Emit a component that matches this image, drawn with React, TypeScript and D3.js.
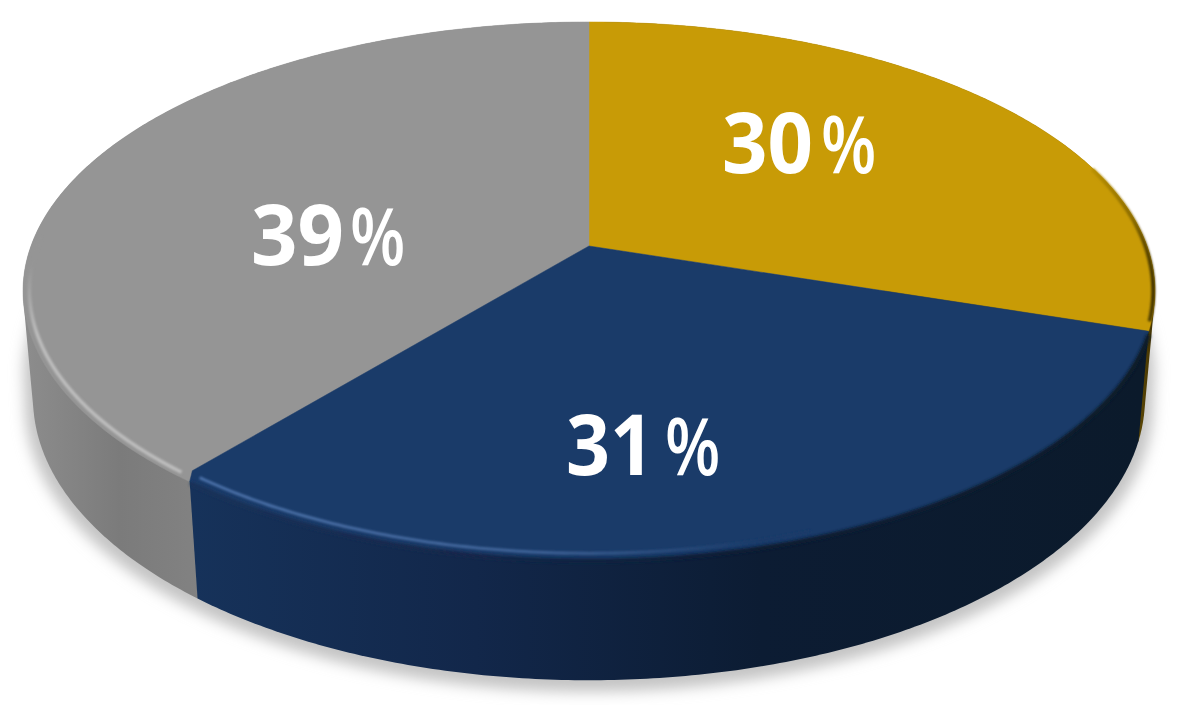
import React from 'react'
import * as d3 from 'd3'

// share of each slice, clockwise from 12 o'clock
const sliceNames = ['Gold', 'Navy', 'Gray']
const sliceValues = [30, 31, 39]
const topColors = ['#c89b06', '#1a3b69', '#959595']
const labelCenters: [number, number][] = [[798, 143], [642, 445], [327, 235]]
const digitWidths = [91, 88, 93]

const width = 1181
const height = 705

// perspective of the disc
const cx = 589
const cy = 246
const kx = 558
const my = 261.5
const persp = 0.1673
const depthW = 0.0175
const depthH = 107.7
// the bevel rounds the navy/gray corner in a little
const cornerInset = 0.02

const project = (a: number, r = 1, depth = 0): [number, number] => {
  const u = r * Math.sin(a)
  const v = -r * Math.cos(a)
  const w = 1 + depthW * depth - persp * v
  return [cx + (kx * u) / w, cy + (my * v + depthH * depth) / w]
}

const lineGen = d3.line<[number, number]>()
const steps = (a0: number, a1: number) => {
  const n = Math.max(2, Math.ceil(Math.abs(a1 - a0) / 0.01))
  return d3.range(n + 1).map(i => a0 + ((a1 - a0) * i) / n)
}

const apex: [number, number] = [cx, cy]
// hull of both rims, so the outline keeps the straight tangent down the side
const wallPath = (a0: number, a1: number) =>
  lineGen(d3.polygonHull([
    ...steps(a0, a1).map(a => project(a)),
    ...steps(a0, a1).map(a => project(a, 1, 1)),
  ])!)! + 'Z'
const rimPath = (a0: number, a1: number, r = 1) =>
  lineGen(steps(a0, a1).map(a => project(a, r)))!

const pieGen = d3.pie<number>().sort(null).value(d => d)
const slices = pieGen(sliceValues)
const deg = (d: number) => (d * Math.PI) / 180
const split = slices[1].endAngle

const facePaths = [
  lineGen([apex, ...steps(slices[0].startAngle, slices[0].endAngle).map(a => project(a))])! + 'Z',
  lineGen([
    apex,
    ...steps(slices[1].startAngle, split - cornerInset).map(a => project(a)),
    project(split, 0.975),
  ])! + 'Z',
  lineGen([apex, ...steps(split - cornerInset, slices[2].endAngle).map(a => project(a))])! + 'Z',
]
const walls = [
  wallPath(slices[0].startAngle, slices[0].endAngle),
  wallPath(slices[1].startAngle, split - cornerInset),
  wallPath(slices[2].startAngle - cornerInset, slices[2].endAngle),
]
const wallFill = ['url(#wallGold)', 'url(#wallNavy)', 'url(#wallGray)']

const shadowHull = d3.polygonHull([
  ...steps(0, Math.PI * 2).map(a => {
    const [x, y] = project(a, 1.014, 1)
    return [x, y + 6] as [number, number]
  }),
  ...steps(0, Math.PI * 2).map(a => project(a, 1.012, 0.75)),
])!

export default function App() {
  return (
    <svg
      width={width}
      height={height}
      style={{ position: 'absolute', left: 0, top: 0, background: '#fff' }}
    >
      <defs>
        <filter id="shadowBlur" x="-10%" y="-10%" width="120%" height="120%">
          <feGaussianBlur stdDeviation="7" />
        </filter>
        <filter id="rimBlur" x="-10%" y="-10%" width="120%" height="120%">
          <feGaussianBlur stdDeviation="1.2" />
        </filter>
        <filter id="edgeBlur" x="-10%" y="-10%" width="120%" height="120%">
          <feGaussianBlur stdDeviation="1.8" />
        </filter>
        <linearGradient id="wallGray" gradientUnits="userSpaceOnUse" x1="22" x2="200" y1="0" y2="0">
          <stop offset="0" stopColor="#8d8d8d" />
          <stop offset="0.55" stopColor="#7b7b7b" />
          <stop offset="1" stopColor="#828282" />
        </linearGradient>
        <linearGradient id="wallNavy" gradientUnits="userSpaceOnUse" x1="192" x2="1140" y1="0" y2="0">
          <stop offset="0" stopColor="#16325a" />
          <stop offset="0.3" stopColor="#12274a" />
          <stop offset="0.6" stopColor="#0c1c33" />
          <stop offset="1" stopColor="#0b1a2b" />
        </linearGradient>
        <linearGradient id="wallGold" gradientUnits="userSpaceOnUse" x1="1130" x2="1156" y1="0" y2="0">
          <stop offset="0" stopColor="#6d5405" />
          <stop offset="1" stopColor="#3d3003" />
        </linearGradient>
        <linearGradient id="rimNavy" gradientUnits="userSpaceOnUse" x1="192" x2="760" y1="0" y2="0">
          <stop offset="0" stopColor="#4d73ab" />
          <stop offset="0.6" stopColor="#41659a" />
          <stop offset="1" stopColor="#1a3b69" />
        </linearGradient>
        <linearGradient id="rimGray" gradientUnits="userSpaceOnUse" x1="0" x2="0" y1="265" y2="335">
          <stop offset="0" stopColor="#959595" />
          <stop offset="1" stopColor="#bdbdbd" />
        </linearGradient>
        <linearGradient id="rimGold" gradientUnits="userSpaceOnUse" x1="1080" x2="1155" y1="0" y2="0">
          <stop offset="0" stopColor="#c89b06" />
          <stop offset="0.7" stopColor="#8a6b05" />
          <stop offset="1" stopColor="#3d3003" />
        </linearGradient>
      </defs>

      {/* soft shadow on the floor */}
      <path d={lineGen(shadowHull)! + 'Z'} fill="#c4c4c4" filter="url(#shadowBlur)" />

      {/* side walls, back to front */}
      {[0, 2, 1].map(i => (
        <path key={sliceNames[i]} d={walls[i]} fill={wallFill[i]} />
      ))}

      {/* top faces */}
      {[0, 2, 1].map(i => (
        <path
          key={sliceNames[i]}
          d={facePaths[i]}
          fill={topColors[i]}
          stroke={topColors[i]}
          strokeWidth={0.5}
        />
      ))}

      {/* bevel along the rim */}
      <path
        d={rimPath(split + 0.01, deg(272), 0.989)}
        fill="none"
        stroke="url(#rimGray)"
        strokeWidth={3.5}
        filter="url(#rimBlur)"
      />
      <path
        d={rimPath(slices[1].startAngle + 0.012, split - cornerInset - 0.004, 1.002)}
        fill="none"
        stroke="url(#wallNavy)"
        strokeWidth={4.5}
        filter="url(#edgeBlur)"
      />
      <path
        d={rimPath(split - cornerInset - 0.004, deg(160), 0.982)}
        fill="none"
        stroke="url(#rimNavy)"
        strokeWidth={2.8}
        filter="url(#rimBlur)"
      />
      <path
        d={rimPath(deg(106), deg(72), 0.997)}
        fill="none"
        stroke="url(#rimGold)"
        strokeWidth={4}
        filter="url(#rimBlur)"
      />

      {sliceValues.map((v, i) => (
        <g key={sliceNames[i]} transform={`translate(${labelCenters[i][0] - 76},${labelCenters[i][1] + 30})`}>
          <text
            fontFamily="'Open Sans', sans-serif"
            fontWeight={700}
            fontSize={84}
            fill="#fff"
            textLength={digitWidths[i]}
            lengthAdjust="spacingAndGlyphs"
          >
            {v}
          </text>
          <text
            transform="translate(99,0) scale(0.8,1)"
            fontFamily="'Open Sans', sans-serif"
            fontWeight={600}
            fontSize={80}
            fill="#fff"
          >
            %
          </text>
        </g>
      ))}
    </svg>
  )
}
